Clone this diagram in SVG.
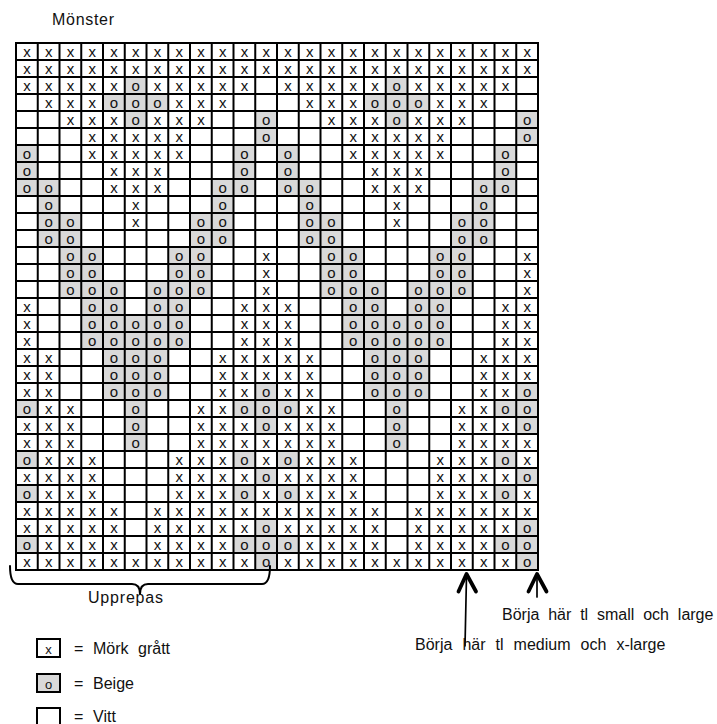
<svg xmlns="http://www.w3.org/2000/svg" xmlns:xlink="http://www.w3.org/1999/xlink" width="717" height="724" viewBox="0 0 717 724">
<style>
.c{font-family:"Liberation Sans",Arial,sans-serif;font-size:15px;text-anchor:middle;fill:#111}
.lc{font-family:"Liberation Sans",Arial,sans-serif;font-size:13px;text-anchor:middle;fill:#111}
.g{fill:#d9d9d9}
.lbl{font-family:"Liberation Sans",Arial,sans-serif;font-size:16px;fill:#111}
.gl{fill:none;stroke:#000;stroke-width:2;stroke-linecap:square}
.cn{fill:none;stroke:#000;stroke-linecap:round;stroke-linejoin:round}
.lb{stroke:#000;stroke-width:2}
</style>
<defs>
<g id="X"><text class="c" x="10.9" y="14">x</text></g>
<g id="O"><rect class="g" width="21.75" height="17"/><text class="c" x="10.9" y="14">o</text></g>
<g id="blk">
<g><use href="#X" x="0"/><use href="#X" x="21.75"/><use href="#X" x="43.5"/><use href="#X" x="65.25"/><use href="#X" x="87"/><use href="#X" x="108.75"/><use href="#X" x="130.5"/><use href="#X" x="152.25"/><use href="#X" x="174"/><use href="#X" x="195.75"/><use href="#X" x="217.5"/><use href="#X" x="239.25"/></g>
<g transform="translate(0,17)"><use href="#X" x="0"/><use href="#X" x="21.75"/><use href="#X" x="43.5"/><use href="#X" x="65.25"/><use href="#X" x="87"/><use href="#X" x="108.75"/><use href="#X" x="130.5"/><use href="#X" x="152.25"/><use href="#X" x="174"/><use href="#X" x="195.75"/><use href="#X" x="217.5"/><use href="#X" x="239.25"/></g>
<g transform="translate(0,34)"><use href="#X" x="0"/><use href="#X" x="21.75"/><use href="#X" x="43.5"/><use href="#X" x="65.25"/><use href="#X" x="87"/><use href="#O" x="108.75"/><use href="#X" x="130.5"/><use href="#X" x="152.25"/><use href="#X" x="174"/><use href="#X" x="195.75"/><use href="#X" x="217.5"/></g>
<g transform="translate(0,51)"><use href="#X" x="21.75"/><use href="#X" x="43.5"/><use href="#X" x="65.25"/><use href="#O" x="87"/><use href="#O" x="108.75"/><use href="#O" x="130.5"/><use href="#X" x="152.25"/><use href="#X" x="174"/><use href="#X" x="195.75"/></g>
<g transform="translate(0,68)"><use href="#X" x="43.5"/><use href="#X" x="65.25"/><use href="#X" x="87"/><use href="#O" x="108.75"/><use href="#X" x="130.5"/><use href="#X" x="152.25"/><use href="#X" x="174"/><use href="#O" x="239.25"/></g>
<g transform="translate(0,85)"><use href="#X" x="65.25"/><use href="#X" x="87"/><use href="#X" x="108.75"/><use href="#X" x="130.5"/><use href="#X" x="152.25"/><use href="#O" x="239.25"/></g>
<g transform="translate(0,102)"><use href="#O" x="0"/><use href="#X" x="65.25"/><use href="#X" x="87"/><use href="#X" x="108.75"/><use href="#X" x="130.5"/><use href="#X" x="152.25"/><use href="#O" x="217.5"/></g>
<g transform="translate(0,119)"><use href="#O" x="0"/><use href="#X" x="87"/><use href="#X" x="108.75"/><use href="#X" x="130.5"/><use href="#O" x="217.5"/></g>
<g transform="translate(0,136)"><use href="#O" x="0"/><use href="#O" x="21.75"/><use href="#X" x="87"/><use href="#X" x="108.75"/><use href="#X" x="130.5"/><use href="#O" x="195.75"/><use href="#O" x="217.5"/></g>
<g transform="translate(0,153)"><use href="#O" x="21.75"/><use href="#X" x="108.75"/><use href="#O" x="195.75"/></g>
<g transform="translate(0,170)"><use href="#O" x="21.75"/><use href="#O" x="43.5"/><use href="#X" x="108.75"/><use href="#O" x="174"/><use href="#O" x="195.75"/></g>
<g transform="translate(0,187)"><use href="#O" x="21.75"/><use href="#O" x="43.5"/><use href="#O" x="174"/><use href="#O" x="195.75"/></g>
<g transform="translate(0,204)"><use href="#O" x="43.5"/><use href="#O" x="65.25"/><use href="#O" x="152.25"/><use href="#O" x="174"/><use href="#X" x="239.25"/></g>
<g transform="translate(0,221)"><use href="#O" x="43.5"/><use href="#O" x="65.25"/><use href="#O" x="152.25"/><use href="#O" x="174"/><use href="#X" x="239.25"/></g>
<g transform="translate(0,238)"><use href="#O" x="43.5"/><use href="#O" x="65.25"/><use href="#O" x="87"/><use href="#O" x="130.5"/><use href="#O" x="152.25"/><use href="#O" x="174"/><use href="#X" x="239.25"/></g>
<g transform="translate(0,255)"><use href="#X" x="0"/><use href="#O" x="65.25"/><use href="#O" x="87"/><use href="#O" x="130.5"/><use href="#O" x="152.25"/><use href="#X" x="217.5"/><use href="#X" x="239.25"/></g>
<g transform="translate(0,272)"><use href="#X" x="0"/><use href="#O" x="65.25"/><use href="#O" x="87"/><use href="#O" x="108.75"/><use href="#O" x="130.5"/><use href="#O" x="152.25"/><use href="#X" x="217.5"/><use href="#X" x="239.25"/></g>
<g transform="translate(0,289)"><use href="#X" x="0"/><use href="#O" x="65.25"/><use href="#O" x="87"/><use href="#O" x="108.75"/><use href="#O" x="130.5"/><use href="#O" x="152.25"/><use href="#X" x="217.5"/><use href="#X" x="239.25"/></g>
<g transform="translate(0,306)"><use href="#X" x="0"/><use href="#X" x="21.75"/><use href="#O" x="87"/><use href="#O" x="108.75"/><use href="#O" x="130.5"/><use href="#X" x="195.75"/><use href="#X" x="217.5"/><use href="#X" x="239.25"/></g>
<g transform="translate(0,323)"><use href="#X" x="0"/><use href="#X" x="21.75"/><use href="#O" x="87"/><use href="#O" x="108.75"/><use href="#O" x="130.5"/><use href="#X" x="195.75"/><use href="#X" x="217.5"/><use href="#X" x="239.25"/></g>
<g transform="translate(0,340)"><use href="#X" x="0"/><use href="#X" x="21.75"/><use href="#O" x="87"/><use href="#O" x="108.75"/><use href="#O" x="130.5"/><use href="#X" x="195.75"/><use href="#X" x="217.5"/><use href="#O" x="239.25"/></g>
<g transform="translate(0,357)"><use href="#O" x="0"/><use href="#X" x="21.75"/><use href="#X" x="43.5"/><use href="#O" x="108.75"/><use href="#X" x="174"/><use href="#X" x="195.75"/><use href="#O" x="217.5"/><use href="#O" x="239.25"/></g>
<g transform="translate(0,374)"><use href="#X" x="0"/><use href="#X" x="21.75"/><use href="#X" x="43.5"/><use href="#O" x="108.75"/><use href="#X" x="174"/><use href="#X" x="195.75"/><use href="#X" x="217.5"/><use href="#O" x="239.25"/></g>
<g transform="translate(0,391)"><use href="#X" x="0"/><use href="#X" x="21.75"/><use href="#X" x="43.5"/><use href="#O" x="108.75"/><use href="#X" x="174"/><use href="#X" x="195.75"/><use href="#X" x="217.5"/><use href="#X" x="239.25"/></g>
<g transform="translate(0,408)"><use href="#O" x="0"/><use href="#X" x="21.75"/><use href="#X" x="43.5"/><use href="#X" x="65.25"/><use href="#X" x="152.25"/><use href="#X" x="174"/><use href="#X" x="195.75"/><use href="#O" x="217.5"/><use href="#X" x="239.25"/></g>
<g transform="translate(0,425)"><use href="#X" x="0"/><use href="#X" x="21.75"/><use href="#X" x="43.5"/><use href="#X" x="65.25"/><use href="#X" x="152.25"/><use href="#X" x="174"/><use href="#X" x="195.75"/><use href="#X" x="217.5"/><use href="#O" x="239.25"/></g>
<g transform="translate(0,442)"><use href="#O" x="0"/><use href="#X" x="21.75"/><use href="#X" x="43.5"/><use href="#X" x="65.25"/><use href="#X" x="152.25"/><use href="#X" x="174"/><use href="#X" x="195.75"/><use href="#O" x="217.5"/><use href="#X" x="239.25"/></g>
<g transform="translate(0,459)"><use href="#X" x="0"/><use href="#X" x="21.75"/><use href="#X" x="43.5"/><use href="#X" x="65.25"/><use href="#X" x="87"/><use href="#X" x="130.5"/><use href="#X" x="152.25"/><use href="#X" x="174"/><use href="#X" x="195.75"/><use href="#X" x="217.5"/><use href="#X" x="239.25"/></g>
<g transform="translate(0,476)"><use href="#X" x="0"/><use href="#X" x="21.75"/><use href="#X" x="43.5"/><use href="#X" x="65.25"/><use href="#X" x="87"/><use href="#X" x="130.5"/><use href="#X" x="152.25"/><use href="#X" x="174"/><use href="#X" x="195.75"/><use href="#X" x="217.5"/><use href="#O" x="239.25"/></g>
<g transform="translate(0,493)"><use href="#O" x="0"/><use href="#X" x="21.75"/><use href="#X" x="43.5"/><use href="#X" x="65.25"/><use href="#X" x="87"/><use href="#X" x="130.5"/><use href="#X" x="152.25"/><use href="#X" x="174"/><use href="#X" x="195.75"/><use href="#O" x="217.5"/><use href="#O" x="239.25"/></g>
<g transform="translate(0,510)"><use href="#X" x="0"/><use href="#X" x="21.75"/><use href="#X" x="43.5"/><use href="#X" x="65.25"/><use href="#X" x="87"/><use href="#X" x="108.75"/><use href="#X" x="130.5"/><use href="#X" x="152.25"/><use href="#X" x="174"/><use href="#X" x="195.75"/><use href="#X" x="217.5"/><use href="#O" x="239.25"/></g>
</g>
</defs>
<rect width="717" height="724" fill="#fff"/>
<g id="title"><text class="lbl" x="52" y="25" textLength="62">Mönster</text></g>
<g id="grid">
<use href="#blk" x="16" y="43"/>
<use href="#blk" x="277" y="43"/>
<path class="gl" d="M16 43V570M37.75 43V570M59.5 43V570M81.25 43V570M103 43V570M124.75 43V570M146.5 43V570M168.25 43V570M190 43V570M211.75 43V570M233.5 43V570M255.25 43V570M277 43V570M298.75 43V570M320.5 43V570M342.25 43V570M364 43V570M385.75 43V570M407.5 43V570M429.25 43V570M451 43V570M472.75 43V570M494.5 43V570M516.25 43V570M538 43V570M16 43H538M16 60H538M16 77H538M16 94H538M16 111H538M16 128H538M16 145H538M16 162H538M16 179H538M16 196H538M16 213H538M16 230H538M16 247H538M16 264H538M16 281H538M16 298H538M16 315H538M16 332H538M16 349H538M16 366H538M16 383H538M16 400H538M16 417H538M16 434H538M16 451H538M16 468H538M16 485H538M16 502H538M16 519H538M16 536H538M16 553H538M16 570H538"/>
</g>
<g id="connectors">
<path class="cn" stroke-width="2" d="M10 566Q10 584 18 584L132 584Q140 584 140 594Q140 584 148 584L262 584Q270 584 270 566"/>
<path class="cn" stroke-width="1.7" d="M466.5 576L465 646"/>
<path class="cn" stroke-width="3.8" d="M458.5 591.5L466.5 574L476 591.5"/>
<path class="cn" stroke-width="1.7" d="M537 576L537 597"/>
<path class="cn" stroke-width="3.8" d="M528.5 591.5L537 574L546.5 591.5"/>
</g>
<g id="label-upprepas"><text class="lbl" x="88" y="603" textLength="75">Upprepas</text></g>
<g id="label-small"><text class="lbl" x="502" y="620" word-spacing="4.4">Börja här tl small och large</text></g>
<g id="label-medium"><text class="lbl" x="415" y="650" word-spacing="5.6">Börja här tl medium och x-large</text></g>
<g id="legend-mork">
<rect class="lb" x="37" y="639" width="23" height="18" fill="#fff"/>
<text class="lc" x="48.5" y="654">x</text>
<text class="lbl" y="654"><tspan x="74">=</tspan><tspan x="93" word-spacing="5">Mörk grått</tspan></text>
</g>
<g id="legend-beige">
<rect class="lb" x="37" y="674" width="23" height="18" fill="#d9d9d9"/>
<text class="lc" x="48.5" y="689">o</text>
<text class="lbl" y="689"><tspan x="74">=</tspan><tspan x="93">Beige</tspan></text>
</g>
<g id="legend-vitt">
<rect class="lb" x="37" y="708" width="23" height="18" fill="#fff"/>
<text class="lbl" y="722"><tspan x="74">=</tspan><tspan x="93">Vitt</tspan></text>
</g>
</svg>
